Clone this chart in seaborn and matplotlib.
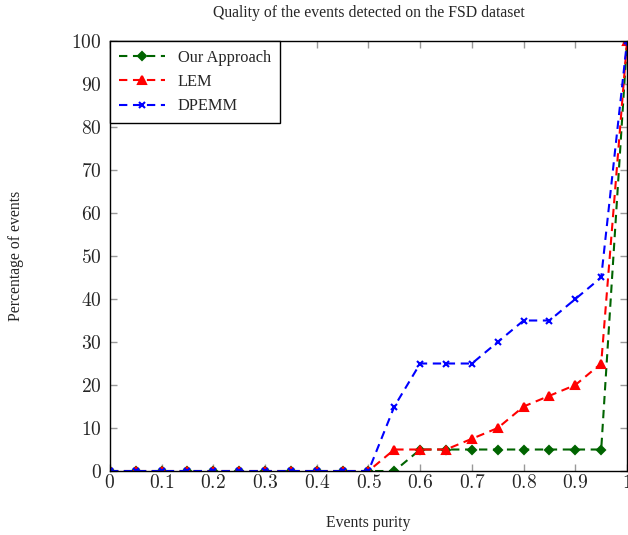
import matplotlib
matplotlib.use("Agg")
import matplotlib.pyplot as plt
import seaborn as sns
import pandas as pd
import numpy as np

purity = [0, 0.05, 0.1, 0.15, 0.2, 0.25, 0.3, 0.35, 0.4, 0.45, 0.5,
          0.55, 0.6, 0.65, 0.7, 0.75, 0.8, 0.85, 0.9, 0.95, 1.0]
our_approach = [0, 0, 0, 0, 0, 0, 0, 0, 0, 0, 0,
                0, 5, 5, 5, 5, 5, 5, 5, 5, 100]
lem = [0, 0, 0, 0, 0, 0, 0, 0, 0, 0, 0,
       5, 5, 5, 7.5, 10, 15, 17.5, 20, 25, 100]
dpemm = [0, 0, 0, 0, 0, 0, 0, 0, 0, 0, 0,
         15, 25, 25, 25, 30, 35, 35, 40, 45, 100]
series_names = ["Our Approach", "LEM", "DPEMM"]
x_ticks = [0, 0.1, 0.2, 0.3, 0.4, 0.5, 0.6, 0.7, 0.8, 0.9, 1]
x_tick_labels = ["0", "0.1", "0.2", "0.3", "0.4", "0.5", "0.6", "0.7", "0.8", "0.9", "1"]
y_ticks = [0, 10, 20, 30, 40, 50, 60, 70, 80, 90, 100]

sns.set_theme(style="white")
plt.rcParams['font.family'] = ['Liberation Serif', 'DejaVu Serif']
plt.rcParams['mathtext.fontset'] = 'cm'

df = pd.DataFrame({
    "purity": purity * 3,
    "pct": our_approach + lem + dpemm,
    "method": sum([[n] * len(purity) for n in series_names], []),
})

fig = plt.figure(figsize=(6.28, 5.35), dpi=100)
ax = fig.add_axes([0.175, 0.1196, 0.8235, 0.8038])

colors = {"Our Approach": "#006400", "LEM": "#ff0000", "DPEMM": "#0000ff"}
markers = {"Our Approach": "D", "LEM": "^", "DPEMM": "x"}
msizes = {"Our Approach": 4.5, "LEM": 6, "DPEMM": 5}
for name in series_names:
    sub = df[df["method"] == name]
    sns.lineplot(data=sub, x="purity", y="pct", ax=ax, color=colors[name],
                 marker=markers[name], markersize=msizes[name], markeredgewidth=1.5,
                 markeredgecolor=colors[name], linewidth=1.5, label=name,
                 dashes=False, linestyle=(0, (4, 2.7)), clip_on=True)

ax.set_xlim(0, 1)
ax.set_ylim(0, 100)
ax.set_xticks(x_ticks)
ax.set_xticklabels([f"${t}$" for t in x_tick_labels], fontsize=14)
ax.set_yticks(y_ticks)
ax.set_yticklabels([f"${t}$" for t in y_ticks], fontsize=14)
ax.tick_params(axis="both", which="major", direction="in", length=5, width=1,
               color="#999999", top=True, right=True, bottom=True, left=True, pad=6)
ax.tick_params(axis="x", pad=2)
for s in ax.spines.values():
    s.set_color("black")
    s.set_linewidth(1.0)

ax.set_title("Quality of the events detected on the FSD dataset", fontsize=11.3, pad=17)
ax.set_xlabel("Events purity", fontsize=11.3, labelpad=17)
ax.set_ylabel("Percentage of events", fontsize=11.3, labelpad=34)

leg = ax.legend(loc="upper left", frameon=True, fancybox=False, fontsize=11.8,
                borderaxespad=0, handlelength=2.8, edgecolor="black",
                borderpad=0.55, labelspacing=0.5, handletextpad=0.8)
leg.get_frame().set_linewidth(1.0)
leg.get_frame().set_alpha(1)

fig.savefig("out.png", dpi=100)
